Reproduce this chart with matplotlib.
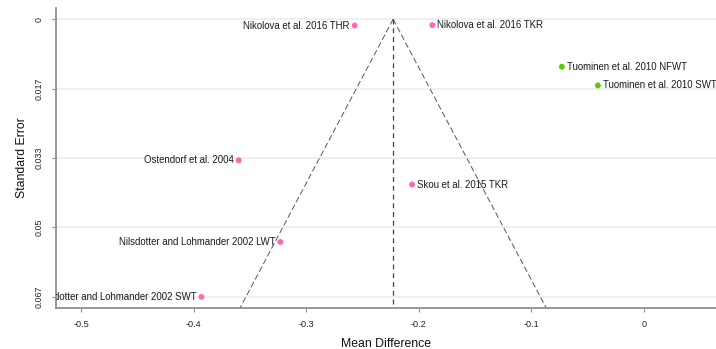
import matplotlib
matplotlib.use("Agg")
import matplotlib.pyplot as plt
import numpy as np

plt.rcParams["font.family"] = ["Liberation Sans", "DejaVu Sans"]

# study-level estimates
studies = [
    "Nikolova et al. 2016 THR",
    "Nikolova et al. 2016 TKR",
    "Tuominen et al. 2010 NFWT",
    "Tuominen et al. 2010 SWT",
    "Ostendorf et al. 2004",
    "Skou et al. 2015 TKR",
    "Nilsdotter and Lohmander 2002 LWT",
    "Nilsdotter and Lohmander 2002 SWT",
]
mean_diff = [-0.257, -0.188, -0.073, -0.041, -0.360, -0.206, -0.323, -0.393]
std_err = [0.0015, 0.0014, 0.0114, 0.0159, 0.0339, 0.0397, 0.0535, 0.0667]
group = ["a", "a", "b", "b", "a", "a", "a", "a"]
label_side = ["left", "right", "right", "right", "left", "right", "left", "left"]

pooled_md = -0.2228

x_ticks = [-0.5, -0.4, -0.3, -0.2, -0.1, 0]
x_ticklabels = ["-0.5", "-0.4", "-0.3", "-0.2", "-0.1", "0"]
y_ticks = [0, 1 / 60, 2 / 60, 3 / 60, 4 / 60]
y_ticklabels = ["0", "0.017", "0.033", "0.05", "0.067"]

COLORS = {"a": "#FF69B4", "b": "#5DC800"}

fig = plt.figure(figsize=(7.16, 3.49), dpi=100)
ax = fig.add_axes([0.0782, 0.1183, 0.9218, 0.8587])

xlim = (-0.5222, 0.0639)
ylim = (0.0693, -0.0027)
ax.set_xlim(*xlim)
ax.set_ylim(*ylim)

# horizontal grid only
ax.set_yticks(y_ticks)
ax.set_yticklabels(y_ticklabels, rotation=90, va="center", fontsize=6.4, color="#222222")
ax.set_xticks(x_ticks)
ax.set_xticklabels(x_ticklabels, fontsize=6.6, color="#222222")
ax.grid(axis="y", color="#ebebeb", linewidth=1.1)
ax.set_axisbelow(True)

for side in ["top", "right"]:
    ax.spines[side].set_visible(False)
for side in ["left", "bottom"]:
    ax.spines[side].set_color("#8f8f8f")
    ax.spines[side].set_linewidth(1.3)
ax.tick_params(axis="both", length=3, width=0.8, color="#8f8f8f", pad=6)

# funnel (95% limits around pooled estimate)
se_line = np.array([0, ylim[0] + 0.01])
ax.plot(pooled_md - 1.96 * se_line, se_line, color="#555555", lw=0.7, dashes=(6, 3), zorder=2)
ax.plot(pooled_md + 1.96 * se_line, se_line, color="#555555", lw=0.7, dashes=(6, 3), zorder=2)
ax.plot([pooled_md, pooled_md], [0, ylim[0]], color="#444444", lw=0.9, dashes=(4, 3), zorder=2)

cols = [COLORS[g] for g in group]
ax.scatter(mean_diff, std_err, s=18, c=cols, linewidths=0, zorder=3)

for name, x, y, side in zip(studies, mean_diff, std_err, label_side):
    off = -3.5 if side == "left" else 3.5
    ha = "right" if side == "left" else "left"
    ax.annotate(name, (x, y), xytext=(off, 0), textcoords="offset points",
                ha=ha, va="center", fontsize=6.9, color="#1a1a1a",
                annotation_clip=False, clip_on=True, zorder=4)

ax.set_xlabel("Mean Difference", fontsize=8.8, color="#111111", labelpad=6)
ax.set_ylabel("Standard Error", fontsize=8.8, color="#111111", labelpad=5)

fig.savefig("out.png", dpi=100)
